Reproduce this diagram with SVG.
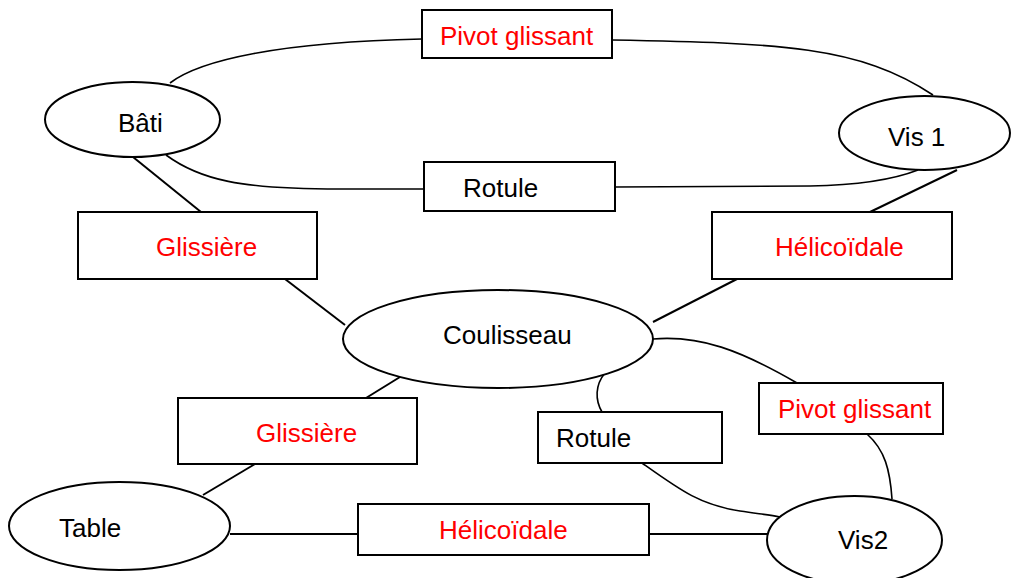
<svg xmlns="http://www.w3.org/2000/svg" width="1011" height="578" viewBox="0 0 1011 578">
<style>
.bg{fill:#ffffff}
.n{fill:#ffffff;stroke:#000000;stroke-width:2}
.c{fill:none;stroke:#000000;stroke-width:1.6}
.cs{fill:none;stroke:#000000;stroke-width:2}
text{font-family:"Liberation Sans",Arial,sans-serif;font-size:26px}
.k{fill:#000000}
.r{fill:#ff0000}
</style>
<rect class="bg" x="0" y="0" width="1011" height="578"/>
<g id="connectors">
<path class="c" d="M170,83 C200,60 280,42 422,39"/>
<path class="c" d="M612,40 C780,43 860,46 933,95"/>
<path class="c" d="M166,155 C200,180 240,189 340,189 L424,189"/>
<path class="c" d="M615,187 L810,186 C870,185 900,177 918,170"/>
<path class="cs" d="M133,157 L201,212"/>
<path class="cs" d="M285,279 L345,325"/>
<path class="cs" d="M957,170 L870,212"/>
<path class="cs" d="M737,279 L653,322"/>
<path class="cs" d="M400,377 L366,398"/>
<path class="cs" d="M255,464 L203,495"/>
<path class="cs" d="M230,534 L358,534"/>
<path class="cs" d="M649,534 L772,534"/>
<path class="c" d="M653,339 C700,335 740,350 797,383"/>
<path class="c" d="M867,434 C885,450 890,470 892,499"/>
<path class="c" d="M605,373 C595,385 595,400 602,412"/>
<path class="c" d="M642,463 C680,490 700,505 740,511 C760,514 770,515 780,517"/>
</g>
<g id="bati">
<ellipse class="n" cx="132.5" cy="119.5" rx="87.5" ry="37.5"/>
<text class="k" x="118" y="132">Bâti</text>
</g>
<g id="vis1">
<ellipse class="n" cx="924.5" cy="133" rx="85.5" ry="37"/>
<text class="k" x="888" y="146">Vis 1</text>
</g>
<g id="coulisseau">
<ellipse class="n" cx="498" cy="339" rx="155" ry="49"/>
<text class="k" x="443" y="344">Coulisseau</text>
</g>
<g id="table">
<ellipse class="n" cx="119.5" cy="526" rx="110.5" ry="44"/>
<text class="k" x="59" y="537">Table</text>
</g>
<g id="vis2">
<ellipse class="n" cx="854.5" cy="540" rx="87.5" ry="44"/>
<text class="k" x="838" y="549">Vis2</text>
</g>
<g id="pivot-glissant-1">
<rect class="n" x="422" y="10" width="190" height="48"/>
<text class="r" x="440" y="45">Pivot glissant</text>
</g>
<g id="rotule-1">
<rect class="n" x="424" y="162" width="191" height="49"/>
<text class="k" x="463" y="197">Rotule</text>
</g>
<g id="glissiere-1">
<rect class="n" x="78" y="212" width="239" height="67"/>
<text class="r" x="156" y="256">Glissière</text>
</g>
<g id="helicoidale-1">
<rect class="n" x="712" y="212" width="240" height="67"/>
<text class="r" x="775" y="256">Hélicoïdale</text>
</g>
<g id="glissiere-2">
<rect class="n" x="178" y="398" width="239" height="66"/>
<text class="r" x="256" y="442">Glissière</text>
</g>
<g id="pivot-glissant-2">
<rect class="n" x="759" y="383" width="184" height="51"/>
<text class="r" x="778" y="418">Pivot glissant</text>
</g>
<g id="rotule-2">
<rect class="n" x="538" y="412" width="184" height="51"/>
<text class="k" x="556" y="447">Rotule</text>
</g>
<g id="helicoidale-2">
<rect class="n" x="358" y="504" width="291" height="51"/>
<text class="r" x="439" y="539">Hélicoïdale</text>
</g>
</svg>
